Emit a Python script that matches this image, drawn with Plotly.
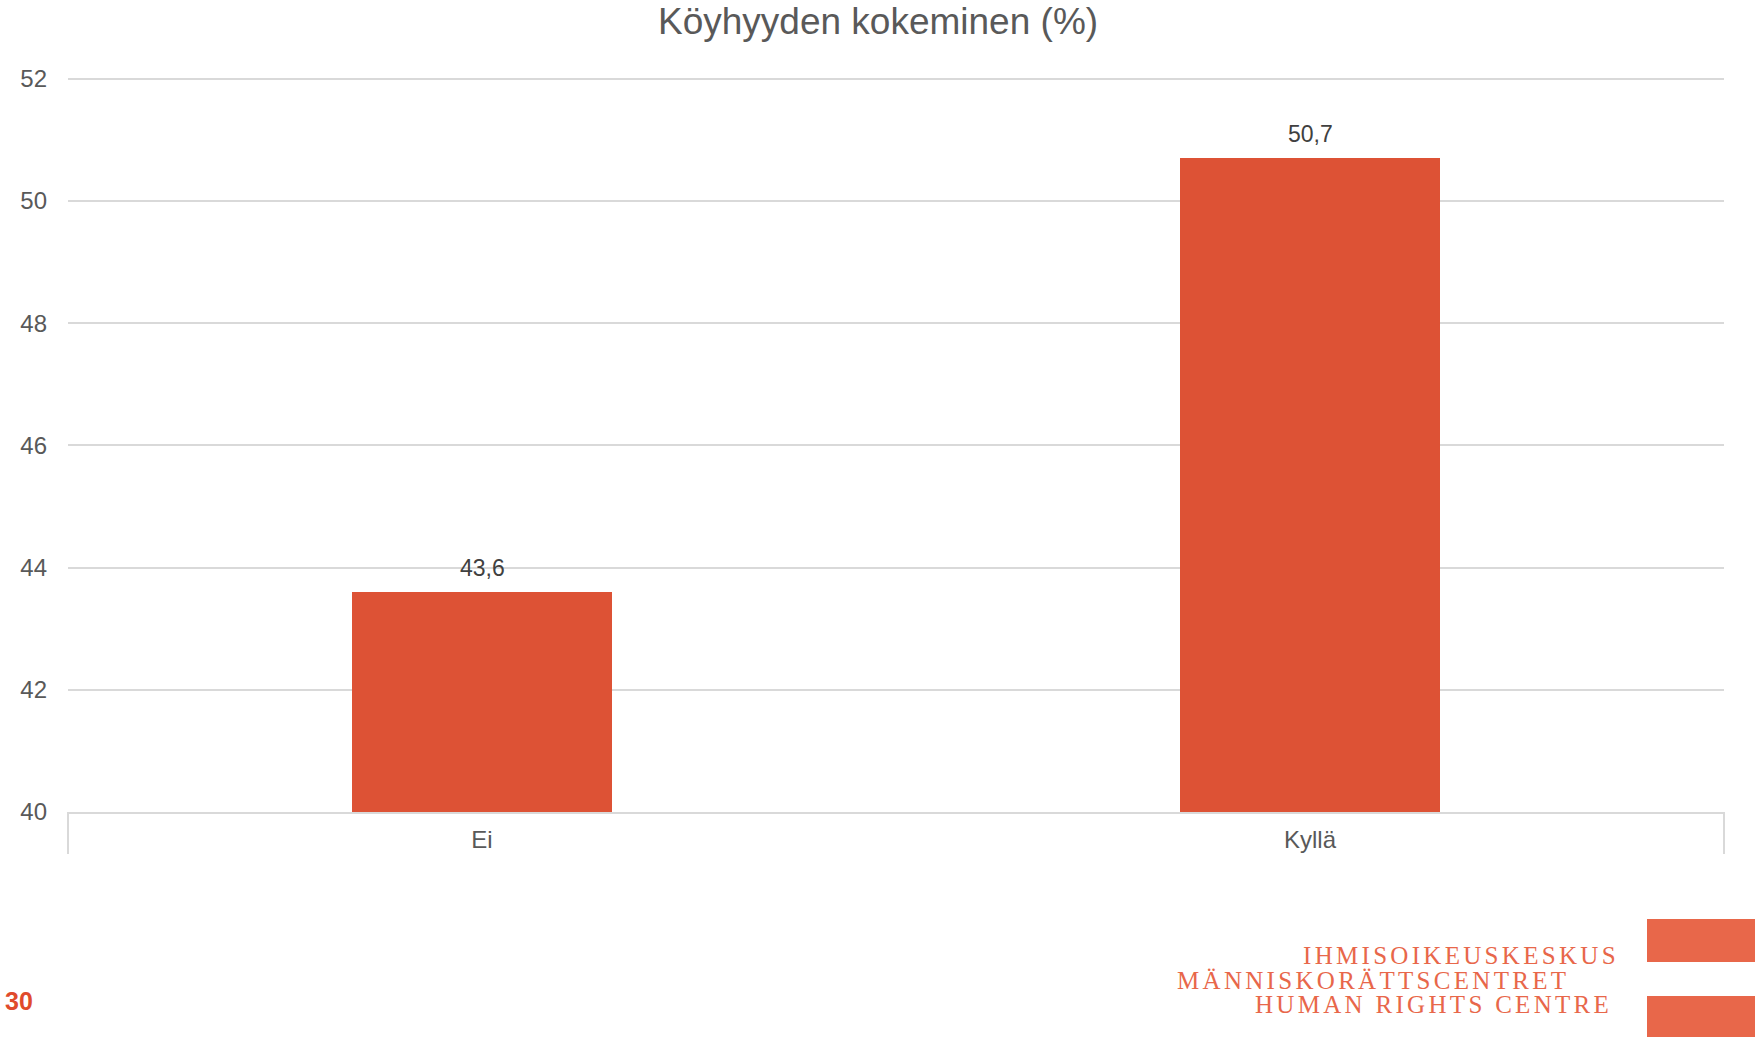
import plotly.graph_objects as go

categories = ["Ei", "Kyllä"]
values = [43.6, 50.7]
y_ticks = [40, 42, 44, 46, 48, 50, 52]
title_text = "Köyhyyden kokeminen (%)"
logo_lines = ["IHMISOIKEUSKESKUS", "MÄNNISKORÄTTSCENTRET", "HUMAN RIGHTS CENTRE"]
page_number = "30"

W, H = 1755, 1037
L, R, T, B = 68, 1724, 77, 812  # plot area in pixels

def px(x):
    return (x - L) / (R - L)

def py(y):
    return (B - y) / (B - T)

FONT = "Liberation Sans, Arial, sans-serif"
BAR = "#DD5235"
LOGO = "#E8674A"
GRID = "#D9D9D9"

fig = go.Figure()
fig.add_trace(go.Bar(
    x=categories, y=values, width=0.314,
    marker=dict(color=BAR, line=dict(width=0)),
    hoverinfo="skip",
))

annotations = []
for c, v in zip(categories, values):
    annotations.append(dict(
        x=c, y=v, xref="x", yref="y", text=f"{v:.1f}".replace(".", ","),
        showarrow=False, yshift=24, font=dict(family=FONT, size=23, color="#404040"),
    ))

annotations.append(dict(
    x=px(878), y=py(22), xref="paper", yref="paper", text=title_text,
    showarrow=False, xanchor="center", yanchor="middle",
    font=dict(family=FONT, size=37, color="#595959"),
))

logo_left = [1301, 1175, 1253]
logo_y = [955, 980, 1004]
for t, lx, ly in zip(logo_lines, logo_left, logo_y):
    annotations.append(dict(
        x=px(lx), y=py(ly), xref="paper", yref="paper",
        text=f'<span style="letter-spacing:3.3px">{t}</span>',
        showarrow=False, xanchor="left", yanchor="middle",
        font=dict(family="Liberation Serif, Times New Roman, serif", size=25, color=LOGO),
    ))

annotations.append(dict(
    x=px(3), y=py(1001), xref="paper", yref="paper", text=f"<b>{page_number}</b>",
    showarrow=False, xanchor="left", yanchor="middle",
    font=dict(family=FONT, size=25, color="#E04B2C"),
))

shapes = [
    dict(type="line", xref="paper", yref="paper", x0=0, x1=0, y0=0, y1=py(854),
         line=dict(color=GRID, width=2)),
    dict(type="line", xref="paper", yref="paper", x0=1, x1=1, y0=0, y1=py(854),
         line=dict(color=GRID, width=2)),
    dict(type="rect", xref="paper", yref="paper", x0=px(1647), x1=px(1760),
         y0=py(919), y1=py(962), fillcolor=LOGO, line=dict(width=0)),
    dict(type="rect", xref="paper", yref="paper", x0=px(1647), x1=px(1760),
         y0=py(996), y1=py(1040), fillcolor=LOGO, line=dict(width=0)),
]

fig.update_layout(
    width=W, height=H,
    margin=dict(l=L, r=W - R, t=T, b=H - B, pad=0),
    paper_bgcolor="white", plot_bgcolor="white",
    showlegend=False,
    annotations=annotations,
    shapes=shapes,
    bargap=0,
    xaxis=dict(
        showgrid=False, showline=True, linecolor=GRID, linewidth=2,
        ticks="", tickfont=dict(family=FONT, size=24, color="#595959"),
        ticklabelstandoff=5, zeroline=False, fixedrange=True,
    ),
    yaxis=dict(
        range=[40, 52.03], tickvals=y_ticks, showgrid=True, gridcolor=GRID, gridwidth=2,
        showline=False, zeroline=False, ticks="",
        tickfont=dict(family=FONT, size=24, color="#595959"),
        ticklabelstandoff=20, fixedrange=True,
    ),
)

fig.write_html("out.html", config={"displayModeBar": False},
               post_script="document.body.style.margin='0';")
